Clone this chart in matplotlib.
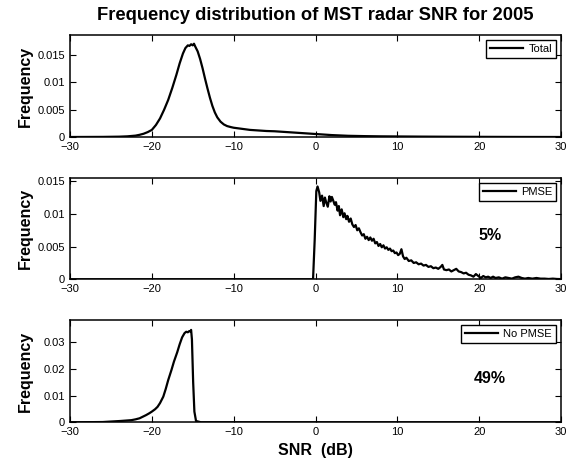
import matplotlib
matplotlib.use("Agg")
import matplotlib.pyplot as plt

plt.rcParams['font.family'] = ['Liberation Sans', 'DejaVu Sans']

# ---------------- data ----------------
title = "Frequency distribution of MST radar SNR for 2005"
xticks = [-30, -20, -10, 0, 10, 20, 30]

total_snr = [-30, -26, -24, -23, -22, -21.5, -21, -20.5, -20, -19.5,
             -19, -18.5, -18, -17.5, -17, -16.6, -16.2, -15.9, -15.6, -15.4,
             -15.2, -15.0, -14.85, -14.7, -14.4, -14.1, -13.8, -13.5, -13.2, -12.9,
             -12.6, -12.3, -12.0, -11.6, -11.2, -10.8, -10.3, -10, -9, -8,
             -7, -6, -5, -4, -3, -2, -1, 0, 1, 2,
             4, 6, 8, 10, 13, 16, 20, 25, 30]
total_freq = [0, 0.00002, 0.00006, 0.00012, 0.00025, 0.0004, 0.0006, 0.0009, 0.0013, 0.0022,
              0.0034, 0.0050, 0.0068, 0.0090, 0.0114, 0.0135, 0.0153, 0.0163, 0.0168, 0.0167,
              0.0170, 0.0168, 0.0171, 0.0166, 0.0157, 0.0143, 0.0126, 0.0107, 0.0089, 0.0072,
              0.0057, 0.0045, 0.0036, 0.0028, 0.0023, 0.0020, 0.0018, 0.0017, 0.0015, 0.0013,
              0.0012, 0.0011, 0.00105, 0.00095, 0.00085, 0.00075, 0.00065, 0.00055, 0.00045, 0.00035,
              0.00022, 0.00016, 0.00012, 0.0001, 0.00007, 0.00005, 0.00003, 0.00001, 0.0]

pmse_snr = [-30, -0.3, -0.1, 0.1, 0.25, 0.45, 0.6, 0.8, 1.0, 1.15,
            1.3, 1.5, 1.7, 1.85, 2.0, 2.15, 2.35, 2.5, 2.7, 2.85,
            3.0, 3.2, 3.4, 3.55, 3.75, 3.9, 4.1, 4.3, 4.5, 4.7,
            4.9, 5.1, 5.3, 5.5, 5.7, 5.9, 6.1, 6.3, 6.5, 6.7,
            6.9, 7.1, 7.3, 7.5, 7.7, 7.9, 8.1, 8.3, 8.5, 8.7,
            8.9, 9.1, 9.3, 9.5, 9.7, 9.9, 10.1, 10.3, 10.5, 10.7,
            10.9, 11.1, 11.4, 11.7, 12.0, 12.3, 12.6, 12.9, 13.2, 13.5,
            13.8, 14.1, 14.4, 14.7, 15.0, 15.3, 15.5, 15.7, 16.0, 16.3,
            16.6, 16.9, 17.2, 17.5, 17.8, 18.1, 18.4, 18.7, 19.0, 19.3,
            19.6, 19.9, 20.2, 20.5, 20.8, 21.1, 21.4, 21.7, 22.0, 22.4,
            22.8, 23.2, 23.6, 24.0, 24.4, 24.8, 25.2, 25.6, 26.0, 26.5,
            27.0, 27.5, 28.0, 28.5, 29.0, 29.5, 30.0]
pmse_freq = [0, 0, 0.0060, 0.0135, 0.0142, 0.0133, 0.0120, 0.0128, 0.0112, 0.0125,
             0.0118, 0.0111, 0.0127, 0.0119, 0.0126, 0.0121, 0.0114, 0.0118, 0.0105, 0.0112,
             0.0098, 0.0107, 0.0095, 0.0101, 0.0092, 0.0097, 0.0088, 0.0093, 0.0084, 0.0080,
             0.0083, 0.0075, 0.0078, 0.0072, 0.0067, 0.0069, 0.0062, 0.0065, 0.0060, 0.0064,
             0.0059, 0.0062, 0.0055, 0.0057, 0.0051, 0.0054, 0.0049, 0.0052, 0.0047, 0.0049,
             0.0045, 0.0047, 0.0043, 0.0044, 0.0040, 0.0041, 0.0037, 0.0039, 0.0046, 0.0035,
             0.0031, 0.0033, 0.0028, 0.0029, 0.0025, 0.0026, 0.0023, 0.0024, 0.0021, 0.0022,
             0.0019, 0.0020, 0.0017, 0.0018, 0.0016, 0.0019, 0.0022, 0.0015, 0.0014, 0.0015,
             0.0012, 0.0014, 0.0016, 0.0012, 0.0011, 0.0009, 0.0010, 0.0007, 0.0006, 0.0004,
             0.0008, 0.0005, 0.0002, 0.0005, 0.0003, 0.0004, 0.0002, 0.0004, 0.0002, 0.0003,
             0.0001, 0.0003, 0.0002, 0.0001, 0.0003, 0.0004, 0.0002, 0.0001, 0.0002, 0.0001,
             0.0002, 0.0001, 0.0001, 0.00005, 0.0001, 0.00005, 0.00003]

nopmse_snr = [-30, -26, -23.8, -22.5, -22, -21.5, -21.1, -20.7, -20.3, -20,
              -19.6, -19.3, -19.0, -18.6, -18.3, -18.0, -17.6, -17.3, -16.9, -16.6,
              -16.3, -16.0, -15.8, -15.6, -15.45, -15.3, -15.2, -15.1, -14.95, -14.8,
              -14.6, -14, 30]
nopmse_freq = [0, 0.0001, 0.0005, 0.0008, 0.0011, 0.0015, 0.0021, 0.0027, 0.0034, 0.0040,
               0.0049, 0.0058, 0.0072, 0.0096, 0.0125, 0.0158, 0.0196, 0.0227, 0.0262, 0.0292,
               0.0318, 0.0334, 0.0339, 0.0337, 0.0341, 0.0340, 0.0346, 0.0310, 0.0150, 0.0040,
               0.0005, 0, 0]

panels = [
    dict(x=total_snr, y=total_freq, label="Total", ylim=0.0187,
         yticks=[0, 0.005, 0.01, 0.015], yticklabels=["0", "0.005", "0.01", "0.015"], pct=None),
    dict(x=pmse_snr, y=pmse_freq, label="PMSE", ylim=0.01545,
         yticks=[0, 0.005, 0.01, 0.015], yticklabels=["0", "0.005", "0.01", "0.015"], pct="5%"),
    dict(x=nopmse_snr, y=nopmse_freq, label="No PMSE", ylim=0.0383,
         yticks=[0, 0.01, 0.02, 0.03], yticklabels=["0", "0.01", "0.02", "0.03"], pct="49%"),
]

# ---------------- figure ----------------
W, H = 573, 459
fig = plt.figure(figsize=(W / 100, H / 100), dpi=100)

left, right = 70, 561
boxes = [(35, 137), (178.3, 279.3), (320, 422.3)]

for i, (p, (top, bot)) in enumerate(zip(panels, boxes)):
    ax = fig.add_axes([left / W, 1 - bot / H, (right - left) / W, (bot - top) / H])
    ax.plot(p["x"], p["y"], color="black", lw=1.6, label=p["label"])
    ax.set_xlim(-30, 30)
    ax.set_ylim(0, p["ylim"])
    ax.set_xticks(xticks)
    ax.set_yticks(p["yticks"])
    ax.set_yticklabels(p["yticklabels"])
    ax.tick_params(direction="in", top=True, right=True, length=4, width=0.8,
                   labelsize=8, pad=3.5)
    for s in ax.spines.values():
        s.set_linewidth(1.1)
    ax.set_ylabel("Frequency", fontsize=11.5, fontweight="bold")
    ax.yaxis.set_label_coords(-0.0917, 0.5)
    ax.yaxis.label.set_va("center")
    leg = ax.legend(loc="upper right", fontsize=8, handlelength=3.0, handletextpad=0.45,
                    borderpad=0.35, borderaxespad=0.45, fancybox=False, framealpha=1)
    leg.get_frame().set_edgecolor("black")
    leg.get_frame().set_linewidth(1.0)
    if p["pct"]:
        ax.text(0.855, 0.43, p["pct"], transform=ax.transAxes, ha="center", va="center",
                fontsize=11.5, fontweight="bold")
    if i == 2:
        ax.set_xlabel("SNR  (dB)", fontsize=11.5, fontweight="bold")
        ax.xaxis.set_label_coords(0.5, -0.271)
        ax.xaxis.label.set_va("center")

fig.text(315.5 / W, 1 - 16 / H, title, ha="center", va="center",
         fontsize=13.2, fontweight="bold")

fig.savefig("out.png", dpi=100)
